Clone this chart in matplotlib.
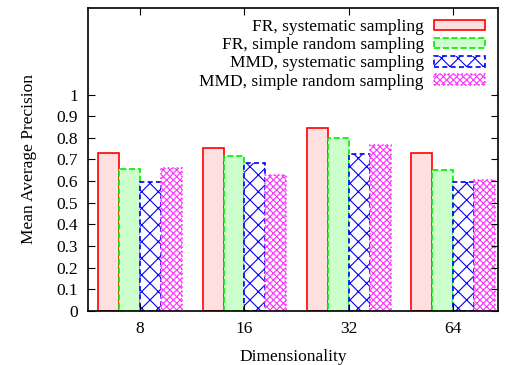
import numpy as np
import matplotlib.pyplot as plt

dims = ["8", "16", "32", "64"]
fr_sys = [0.730, 0.755, 0.845, 0.730]
fr_rnd = [0.657, 0.716, 0.800, 0.650]
mmd_sys = [0.597, 0.682, 0.727, 0.597]
mmd_rnd = [0.661, 0.630, 0.767, 0.605]
labels = ["FR, systematic sampling", "FR, simple random sampling",
          "MMD, systematic sampling", "MMD, simple random sampling"]

plt.rcParams['font.family'] = ['Liberation Serif', 'DejaVu Serif']
plt.rcParams['hatch.linewidth'] = 0.8

fig = plt.figure(figsize=(5.05, 3.65), dpi=100)
ax = fig.add_axes([88 / 505, 54 / 365, 410 / 505, 303 / 365])

x = np.arange(len(dims))
w = 0.2
styles = [
    dict(facecolor='#ffe0e0', edgecolor='#ff0000', linestyle='-', hatch=None),
    dict(facecolor='#ccffcc', edgecolor='#00ee00', linestyle='--', hatch=None),
    dict(facecolor='white', edgecolor='#0000ff', linestyle=(0, (3, 2)), hatch='xx'),
    dict(facecolor='white', edgecolor='#ff33ff', linestyle=':', hatch='xxxxx'),
]
series = [fr_sys, fr_rnd, mmd_sys, mmd_rnd]
for i, (vals, st, lab) in enumerate(zip(series, styles, labels)):
    ax.bar(x + (i - 1.5) * w, vals, w, label=lab, linewidth=1.2, **st)

ax.set_xlim(-0.5, 3.43)
ax.set_ylim(0, 1.4)
ax.set_yticks(np.arange(0, 1.01, 0.1))
ax.set_yticklabels(["0", "0.1", "0.2", "0.3", "0.4", "0.5", "0.6", "0.7", "0.8", "0.9", "1"])
ax.set_xticks(x)
ax.set_xticklabels(dims)
ax.tick_params(direction='in', top=True, right=True, length=5, labelsize=12.5, pad=7)
for s in ax.spines.values():
    s.set_linewidth(1.2)

ax.set_xlabel("Dimensionality", fontsize=12.5, labelpad=9)
ax.set_ylabel("Mean Average Precision", fontsize=12.5, labelpad=14)

ax.legend(loc='upper right', frameon=False, markerfirst=False, fontsize=12.5,
          handlelength=2.9, handleheight=0.55, labelspacing=0.12,
          handletextpad=0.6, borderaxespad=0.4, borderpad=0.25,
          bbox_to_anchor=(0.995, 1.0))

plt.savefig("out.png", dpi=100)
